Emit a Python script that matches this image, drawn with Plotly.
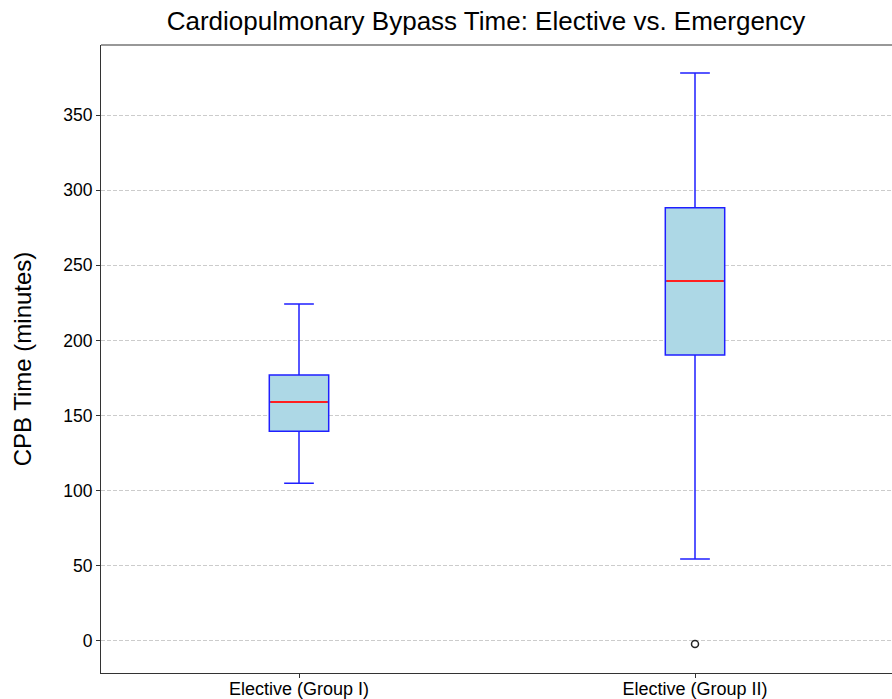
import plotly.graph_objects as go

# Data
categories = ["Elective (Group I)", "Elective (Group II)"]
positions = [1, 2]
q1 = [139.5, 190.3]
median = [159.0, 239.5]
q3 = [177.0, 288.3]
lower_whisker = [105.0, 54.6]
upper_whisker = [224.3, 377.9]
outlier_x = [2]
outlier_y = [-2.0]
yticks = [0, 50, 100, 150, 200, 250, 300, 350]

FONT = "Liberation Sans, Arial, sans-serif"
BOX_W = 0.15

fig = go.Figure()
for i in range(len(categories)):
    fig.add_trace(go.Box(
        x=[positions[i]],
        q1=[q1[i]], median=[median[i]], q3=[q3[i]],
        lowerfence=[lower_whisker[i]], upperfence=[upper_whisker[i]],
        width=BOX_W, whiskerwidth=0.5,
        fillcolor="#add8e6",
        line=dict(color="#1f1fff", width=1.5),
        boxpoints=False, showlegend=False, hoverinfo="skip",
    ))
    fig.add_trace(go.Scatter(
        x=[positions[i] - BOX_W / 2 + 0.003, positions[i] + BOX_W / 2 - 0.003],
        y=[median[i], median[i]],
        mode="lines", line=dict(color="#ff2020", width=2),
        showlegend=False, hoverinfo="skip",
    ))

fig.add_trace(go.Scatter(
    x=outlier_x, y=outlier_y, mode="markers",
    marker=dict(symbol="circle-open", size=7, color="#222222", line=dict(width=1.5)),
    showlegend=False, hoverinfo="skip",
))

fig.update_layout(
    width=892, height=699,
    margin=dict(l=101, r=0, t=45, b=26, autoexpand=False),
    plot_bgcolor="white", paper_bgcolor="white",
    boxmode="overlay",
    font=dict(family=FONT, color="black"),
    title=dict(text="Cardiopulmonary Bypass Time: Elective vs. Emergency",
               x=(486 - 101) / 791, xref="paper", xanchor="center",
               y=1 - 21 / 699, yref="container", yanchor="middle",
               font=dict(size=26, family=FONT, color="black")),
)

fig.update_xaxes(
    range=[0.5, 0.5 + 791 / 396],
    tickmode="array", tickvals=positions, ticktext=categories,
    tickfont=dict(size=18, family=FONT, color="black"),
    ticks="outside", ticklen=4, tickcolor="#333333", ticklabelstandoff=-5,
    showgrid=False, zeroline=False, automargin=False,
    showline=True, linecolor="#333333", linewidth=1.2, mirror=False,
)
fig.update_yaxes(
    range=[-21.3, 396.6],
    tickmode="array", tickvals=yticks,
    tickfont=dict(size=17.5, family=FONT, color="black"),
    ticks="outside", ticklen=4, tickcolor="#333333",
    showgrid=True, gridcolor="#cccccc", griddash="4px,2px", gridwidth=1,
    zeroline=False, automargin=False,
    showline=True, linecolor="#333333", linewidth=1.2, mirror=False,
    title=dict(text="CPB Time (minutes)", font=dict(size=24, family=FONT, color="black"), standoff=24),
)

# top spine
fig.add_shape(type="line", xref="paper", yref="paper", x0=0, x1=1, y0=1, y1=1,
              line=dict(color="#333333", width=1.2))

fig.write_html("out.html", config={"displayModeBar": False},
               post_script="document.body.style.margin='0';document.body.style.overflow='hidden';")
